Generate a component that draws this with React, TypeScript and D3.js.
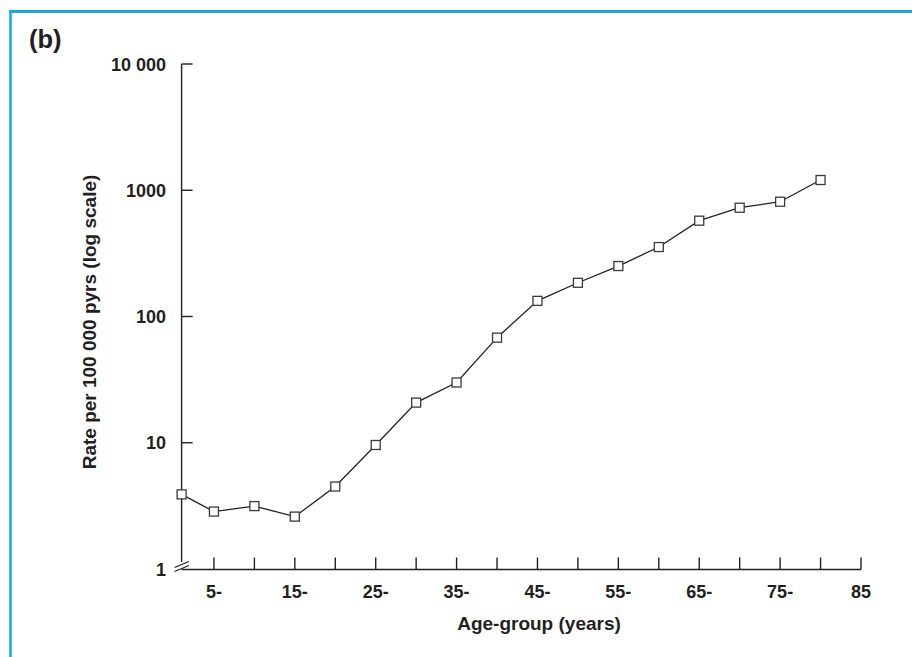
import React from "react";
import * as d3 from "d3";

const ageStarts = [1, 5, 10, 15, 20, 25, 30, 35, 40, 45, 50, 55, 60, 65, 70, 75, 80];
const rates = [3.9, 2.85, 3.15, 2.6, 4.5, 9.6, 20.8, 30, 68, 133, 185, 251, 355, 574, 727, 811, 1205];
const xTickValues = [5, 10, 15, 20, 25, 30, 35, 40, 45, 50, 55, 60, 65, 70, 75, 80, 85];
const xTickLabels = ["5-", "", "15-", "", "25-", "", "35-", "", "45-", "", "55-", "", "65-", "", "75-", "", "85"];
const yTickValues = [1, 10, 100, 1000, 10000];
const yTickLabels = ["1", "10", "100", "1000", "10 000"];

const FONT = "'Liberation Sans', Arial, Helvetica, sans-serif";
const INK = "#231f20";

export default function App() {
  const W = 912, H = 657;
  const x0 = 181.6, x1 = 861;
  const yTop = 64, yBot = 569;
  const x = d3.scaleLinear().domain([1, 85]).range([x0, x1]);
  const y = d3.scaleLog().domain([1, 10000]).range([yBot, yTop]);
  const pts = ageStarts.map((a, i) => [x(a), y(rates[i])] as [number, number]);
  const line = d3.line()(pts) || "";
  const ms = 9;
  return (
    <svg width={W} height={H} style={{ position: "absolute", left: 0, top: 0, background: "#fff" }} fontFamily={FONT}>
      <rect x={0} y={0} width={W} height={H} fill="#fff" />
      {/* frame */}
      <line x1={9.5} y1={11.5} x2={W} y2={11.5} stroke="#1aa6dc" strokeWidth={3} />
      <line x1={10.5} y1={10} x2={10.5} y2={H} stroke="#1aa6dc" strokeWidth={2.5} />
      <text x={29} y={48} fontSize={25.5} fontWeight="bold" fill={INK}>(b)</text>

      {/* y axis */}
      <line x1={x0} y1={yTop} x2={x0} y2={yBot - 7} stroke={INK} strokeWidth={1.4} />
      {yTickValues.map((v, i) => (
        <g key={"y" + i}>
          {v !== 1 && <line x1={x0} x2={x0 + 11} y1={y(v)} y2={y(v)} stroke={INK} strokeWidth={1.4} />}
          <text x={166} y={y(v) + 6.5} textAnchor="end" fontSize={18} fontWeight="bold" fill={INK}>{yTickLabels[i]}</text>
        </g>
      ))}
      {/* axis break */}
      <line x1={174.5} y1={yBot - 1.5} x2={189} y2={yBot - 7.5} stroke={INK} strokeWidth={1.3} />
      <line x1={174.5} y1={yBot + 2.5} x2={189} y2={yBot - 3.5} stroke={INK} strokeWidth={1.3} />

      {/* x axis */}
      <line x1={x0} y1={yBot + 0.5} x2={x1} y2={yBot + 0.5} stroke={INK} strokeWidth={1.4} />
      {xTickValues.map((v, i) => (
        <g key={"x" + i}>
          <line x1={x(v)} x2={x(v)} y1={yBot + 0.5} y2={yBot - 11.5} stroke={INK} strokeWidth={1.4} />
          {xTickLabels[i] && (
            <text x={x(v)} y={598} textAnchor="middle" fontSize={18} fontWeight="bold" fill={INK}>{xTickLabels[i]}</text>
          )}
        </g>
      ))}

      <text x={539} y={630} textAnchor="middle" fontSize={19} fontWeight="bold" fill={INK}>Age-group (years)</text>
      <text transform={`translate(96, 322) rotate(-90)`} textAnchor="middle" fontSize={19} fontWeight="bold" fill={INK}>
        Rate per 100 000 pyrs (log scale)
      </text>

      {/* data */}
      <path d={line} fill="none" stroke={INK} strokeWidth={1.3} />
      {pts.map((p, i) => (
        <rect key={"m" + i} x={p[0] - ms / 2} y={p[1] - ms / 2} width={ms} height={ms} fill="#fff" stroke="#3a3a3a" strokeWidth={1.3} />
      ))}
    </svg>
  );
}
